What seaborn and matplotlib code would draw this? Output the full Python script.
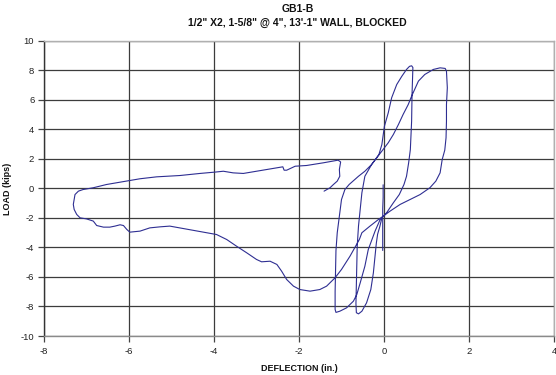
import matplotlib
matplotlib.use("Agg")
import matplotlib.pyplot as plt
import seaborn as sns
import pandas as pd

# Cyclic test record: deflection (in.) and load (kips); seg splits the
# initial trace from the main hysteresis record.
defl = [
    -0.02, -0.02, -0.03, -0.03, -0.03, -0.03,
    -0.05, -0.10, -0.15, -0.18, -0.21, -0.25, -0.31, -0.41, -0.52, -0.60, -0.65,
    -0.66, -0.65, -0.64, -0.63, -0.60, -0.56, -0.52, -0.45, -0.29, -0.12, -0.05, -0.02,
    0.01, 0.10, 0.18, 0.30, 0.42, 0.53, 0.60, 0.65,
    0.68, 0.67, 0.66, 0.65, 0.62, 0.58, 0.53, 0.47, 0.36, 0.22, 0.06, -0.09, -0.21,
    -0.31, -0.37, -0.45, -0.56, -0.64, -0.72, -0.88, -1.04, -1.13,
    -1.15, -1.15, -1.14, -1.13, -1.10, -1.05, -1.00, -0.92, -0.82, -0.60, -0.45, -0.29,
    -0.17, -0.05, 0.10, 0.22, 0.34, 0.45, 0.57, 0.65, 0.81, 0.96, 1.16, 1.32, 1.44,
    1.47, 1.49, 1.47, 1.47, 1.46, 1.43, 1.37, 1.32, 1.22, 1.08, 0.85, 0.61, 0.38, 0.14,
    -0.02, -0.13, -0.33, -0.52, -0.58, -0.80, -1.00, -1.15, -1.35, -1.51, -1.74, -1.98,
    -2.13, -2.29, -2.41, -2.52, -2.68, -2.88, -3.00, -3.23, -3.47, -3.70, -3.94, -4.17,
    -4.49, -4.80, -5.04, -5.27, -5.51, -5.74, -5.98, -6.05, -6.13, -6.21, -6.33, -6.45,
    -6.60, -6.76, -6.84, -7.00, -7.15, -7.23, -7.29, -7.31, -7.29, -7.27, -7.19, -7.08,
    -6.84, -6.53, -5.99, -5.74, -5.35, -4.80, -4.33, -3.98, -3.78, -3.55, -3.31, -3.00,
    -2.60, -2.38, -2.35, -2.29, -2.09, -1.82, -1.43, -1.08, -1.02, -1.05, -1.04, -1.10,
    -1.19, -1.27, -1.41,
]
load = [
    0.25, -0.60, -1.40, -2.20, -3.10, -4.20,
    -2.00, -2.60, -3.10, -3.70, -4.59, -5.72, -6.85, -7.75, -8.32, -8.50, -8.42,
    -7.80, -6.50, -5.20, -3.90, -2.55, -1.42, -0.29, 0.83, 1.63, 2.30, 2.98, 3.60,
    4.22, 5.13, 6.15, 7.05, 7.61, 8.07, 8.28, 8.32,
    8.20, 7.20, 6.40, 4.56, 2.64, 1.74, 0.83, 0.27, -0.41, -0.97, -1.65, -2.10, -2.89,
    -3.68, -4.14, -5.27, -6.40, -7.19, -7.64, -8.09, -8.32, -8.40,
    -8.20, -7.00, -5.50, -4.20, -3.00, -1.88, -0.75, -0.07, 0.27, 0.83, 1.17, 1.63,
    2.08, 2.53, 3.10, 3.66, 4.34, 5.02, 5.69, 6.26, 7.28, 7.73, 8.07, 8.18, 8.14,
    7.95, 6.83, 5.69, 4.56, 3.44, 2.60, 1.97, 1.06, 0.50, 0.05, -0.41, -0.75, -1.08, -1.54,
    -1.88, -2.10, -2.55, -3.00, -3.46, -4.59, -5.49, -6.05, -6.62, -6.85, -6.96, -6.85,
    -6.62, -6.17, -5.60, -5.15, -4.93, -4.97, -4.81, -4.36, -3.91, -3.46, -3.12, -3.00,
    -2.83, -2.67, -2.55, -2.60, -2.67, -2.89, -2.96, -2.78, -2.51, -2.46, -2.55, -2.62,
    -2.62, -2.51, -2.21, -2.06, -1.99, -1.76, -1.42, -1.08, -0.75, -0.41, -0.18, -0.07,
    0.05, 0.27, 0.54, 0.66, 0.79, 0.88, 1.02, 1.11, 1.17, 1.06, 1.02, 1.17,
    1.36, 1.47, 1.24, 1.24, 1.51, 1.56, 1.74, 1.92, 1.80, 1.29, 0.83, 0.50,
    0.27, 0.05, -0.18,
]
seg = [0] * 6 + [1] * (len(defl) - 6)

x_ticks = [-8, -6, -4, -2, 0, 2, 4]
y_ticks = [-10, -8, -6, -4, -2, 0, 2, 4, 6, 8, 10]

title_main = "GB1-B"
title_sub = "1/2\" X2, 1-5/8\" @ 4\", 13'-1\" WALL, BLOCKED"
x_label = "DEFLECTION (in.)"
y_label = "LOAD (kips)"

sns.set_theme(style="white")
plt.rcParams["font.family"] = ["Liberation Sans", "DejaVu Sans"]

df = pd.DataFrame({"defl": defl, "load": load, "seg": seg})

fig = plt.figure(figsize=(5.56, 3.75), dpi=100)
ax = fig.add_axes([0.0791, 0.104, 0.9173, 0.7867])

sns.lineplot(data=df, x="defl", y="load", units="seg", estimator=None,
             sort=False, color="#2e2e92", linewidth=0.8, ax=ax, zorder=3)

ax.set_xlim(-8, 4)
ax.set_ylim(-10, 10)
ax.set_xticks(x_ticks)
ax.set_yticks(y_ticks)
ax.set_xticklabels([str(v) for v in x_ticks])
ax.set_yticklabels([str(v) for v in y_ticks])

ax.grid(True, color="#3c3c3c", linewidth=0.9)
ax.set_axisbelow(True)

for side, col in [("left", "#333333"), ("bottom", "#8a8a8a"),
                  ("top", "#b0b0b0"), ("right", "#b0b0b0")]:
    ax.spines[side].set_visible(True)
    ax.spines[side].set_color(col)
    ax.spines[side].set_linewidth(1.0)

ax.tick_params(axis="both", which="major", direction="out", length=4,
               width=0.9, color="#444444", labelsize=6.8,
               labelcolor="#222222", pad=3)
ax.tick_params(axis="x", bottom=True, pad=4)
ax.tick_params(axis="y", left=True)

ax.set_xlabel(x_label, fontsize=6.5, fontweight="bold", color="#111111",
              labelpad=6)
ax.set_ylabel(y_label, fontsize=6.5, fontweight="bold", color="#111111")
ax.yaxis.set_label_coords(-0.062, 0.5)

fig.text(0.535, 1 - 9 / 375, title_main, ha="center", va="center",
         fontsize=7.5, fontweight="bold", color="#111111")
fig.text(0.535, 1 - 23 / 375, title_sub, ha="center", va="center",
         fontsize=7.5, fontweight="bold", color="#111111")

fig.savefig("out.png", dpi=100)
